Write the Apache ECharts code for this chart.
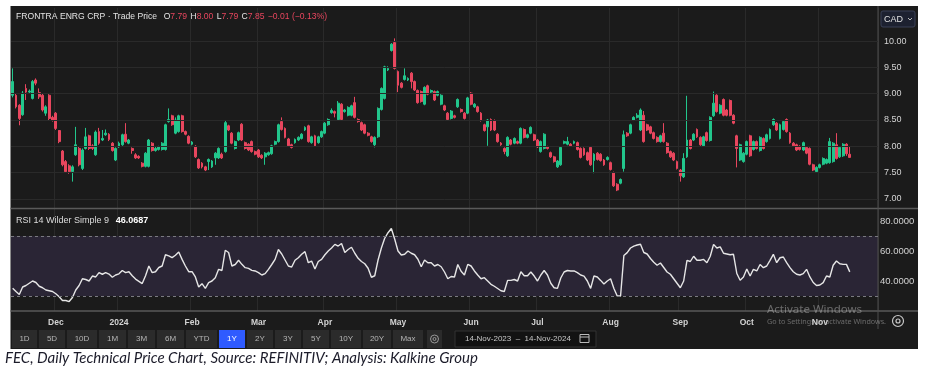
<!DOCTYPE html>
<html>
<head>
<meta charset="utf-8">
<script src="https://cdn.jsdelivr.net/npm/echarts@6/dist/echarts.min.js"></script>
<style>
  html, body { margin: 0; padding: 0; background: #fff; }
  #chart { width: 931px; height: 376px; }
</style>
</head>
<body>
<div id="chart"></div>
<script>
// ---- data ----
const startDate = '2023-11-14';
const endDate = '2024-11-14';
const rangeText = '14-Nov-2023  \u2013  14-Nov-2024';
const holidays = ['2023-12-25', '2023-12-26', '2024-01-01', '2024-02-19', '2024-03-29',
  '2024-05-20', '2024-07-01', '2024-08-05', '2024-09-02', '2024-10-14']; // TSX closed
const padSlots = 8; // empty space right of last candle

const openPx = [8.97,8.97,8.78,8.60,9.10,9.03,8.91,9.26,9.02,8.97,
  8.63,8.97,8.55,8.63,8.30,7.91,7.71,7.63,7.52,7.84,
  7.96,7.58,7.96,8.20,8.01,7.84,8.28,8.12,8.22,8.23,
  8.06,7.74,7.99,8.03,8.23,8.06,7.96,7.84,7.81,7.68,
  7.62,7.62,8.06,7.92,7.94,7.94,7.94,8.47,8.58,8.25,
  8.28,8.58,8.28,8.19,8.04,8.00,7.75,7.68,7.61,7.71,
  7.61,7.78,7.78,7.85,7.90,8.39,8.25,7.96,8.12,8.42,
  8.07,8.04,8.09,7.90,7.93,7.83,7.80,7.84,7.86,8.04,
  8.09,8.47,8.34,8.14,8.03,8.07,8.12,8.15,8.31,8.39,
  8.07,8.20,8.07,8.18,8.25,8.41,8.64,8.66,8.51,8.80,
  8.66,8.59,8.59,8.83,8.51,8.45,8.41,8.25,8.18,8.03,
  8.18,8.70,8.91,9.45,9.82,9.97,9.42,9.20,9.27,9.26,
  9.39,9.23,9.06,9.04,8.80,9.15,9.03,9.04,8.97,8.80,
  8.77,8.63,8.53,8.58,8.75,8.70,8.63,8.63,9.01,8.75,
  8.75,8.63,8.41,8.37,8.51,8.49,8.23,8.06,7.96,7.82,
  8.12,8.06,8.09,8.06,8.32,8.17,8.25,8.22,8.12,7.90,
  7.96,7.99,7.88,7.80,7.61,7.65,8.06,8.04,8.04,8.06,
  8.07,7.96,7.96,7.88,7.98,7.73,7.87,7.85,7.74,7.75,
  7.69,7.50,7.28,7.30,7.58,8.25,8.25,8.50,8.55,8.31,
  8.59,8.41,8.37,8.26,8.17,8.09,8.25,8.06,7.90,7.87,
  7.71,7.55,7.42,7.80,8.12,8.12,8.32,8.17,8.01,8.26,
  8.11,8.58,8.97,8.63,8.89,8.69,8.87,8.59,8.20,7.74,
  7.71,7.85,8.20,7.94,8.09,7.92,8.15,8.09,8.15,8.41,
  8.44,8.15,8.32,8.51,8.25,8.06,8.03,8.00,7.93,7.98,
  7.96,7.65,7.52,7.60,7.66,7.68,7.69,7.71,8.03,7.80,
  7.82,8.04,7.79];
const closePx = [9.23,8.75,8.53,9.01,9.03,9.05,9.23,9.20,8.94,8.69,
  8.75,8.53,8.50,8.34,8.09,7.65,7.52,7.52,7.61,8.03,
  7.65,7.93,8.18,7.96,7.96,8.27,8.06,8.15,8.25,8.13,
  7.92,7.96,8.06,8.22,8.09,8.12,7.92,7.78,7.78,7.62,
  7.87,8.12,7.92,7.96,7.99,8.06,8.41,8.51,8.41,8.50,
  8.58,8.28,8.23,8.06,8.08,7.80,7.59,7.61,7.55,7.75,
  7.72,7.87,7.96,7.78,8.45,8.31,8.06,8.09,8.26,8.12,
  7.96,7.93,7.90,7.85,7.80,7.78,7.87,7.88,8.01,8.09,
  8.41,8.32,8.17,8.01,7.98,8.13,8.17,8.23,8.36,8.09,
  8.18,8.01,8.18,8.28,8.44,8.51,8.68,8.63,8.82,8.51,
  8.69,8.74,8.77,8.55,8.47,8.31,8.25,8.21,8.09,8.17,
  8.72,9.10,9.51,9.48,9.94,9.48,9.16,9.12,9.34,9.29,
  9.23,9.07,8.83,8.85,9.12,8.99,9.06,8.88,9.04,8.97,
  8.69,8.51,8.67,8.55,8.89,8.66,8.53,8.92,8.80,8.80,
  8.66,8.49,8.30,8.50,8.31,8.31,8.09,8.03,7.90,8.17,
  8.04,8.15,8.06,8.34,8.17,8.22,8.36,8.12,7.99,8.09,
  8.23,7.96,7.80,7.71,7.72,7.98,8.09,8.09,8.01,8.09,
  7.94,7.79,7.84,7.74,7.65,7.85,7.75,7.73,7.65,7.79,
  7.56,7.25,7.17,7.37,8.22,8.20,8.41,8.55,8.59,8.69,
  8.09,8.31,8.25,8.15,8.09,8.20,8.09,7.88,7.80,7.74,
  7.58,7.44,7.77,8.12,7.96,8.23,8.18,8.03,8.18,8.11,
  8.55,8.82,8.66,8.78,8.59,8.59,8.59,8.44,7.96,8.03,
  7.87,8.09,7.82,8.09,7.96,8.17,7.96,8.22,8.32,8.51,
  8.31,8.41,8.47,8.28,8.07,8.01,7.93,7.94,8.07,7.87,
  7.66,7.55,7.60,7.65,7.77,7.75,8.09,8.06,7.77,7.98,
  8.04,7.86,7.85];
const lowPx = [8.93,8.72,8.40,8.58,8.88,9.00,8.89,9.16,8.90,8.66,
  8.58,8.50,8.47,8.31,8.06,7.62,7.50,7.48,7.33,7.82,
  7.62,7.55,7.94,7.93,7.93,7.82,8.03,8.10,8.20,8.10,
  7.90,7.72,7.97,8.01,8.07,8.04,7.86,7.76,7.76,7.60,
  7.60,7.60,7.90,7.90,7.92,7.92,7.92,8.45,8.39,8.23,
  8.26,8.26,8.21,8.04,8.02,7.78,7.57,7.58,7.53,7.55,
  7.59,7.65,7.76,7.76,7.88,8.29,8.04,7.94,8.10,8.10,
  7.94,7.91,7.88,7.83,7.78,7.76,7.65,7.82,7.84,8.02,
  8.07,8.30,8.15,7.99,7.96,8.05,8.10,8.13,8.29,8.07,
  8.05,7.99,8.05,8.16,8.23,8.39,8.62,8.55,8.49,8.49,
  8.64,8.57,8.57,8.53,8.45,8.29,8.23,8.19,8.07,7.98,
  8.16,8.68,8.89,9.43,9.80,9.46,9.03,9.10,9.25,9.24,
  9.10,9.05,8.81,8.83,8.78,8.97,9.01,8.86,8.95,8.78,
  8.67,8.49,8.51,8.53,8.73,8.64,8.51,8.61,8.78,8.73,
  8.64,8.47,8.28,8.01,8.29,8.29,8.07,8.01,7.85,7.80,
  8.02,8.04,8.04,8.04,8.15,8.15,8.23,8.10,7.97,7.88,
  7.94,7.94,7.78,7.69,7.59,7.63,8.04,8.02,7.99,8.04,
  7.92,7.77,7.82,7.72,7.63,7.49,7.73,7.71,7.63,7.73,
  7.54,7.23,7.15,7.28,7.52,8.18,8.23,8.48,8.53,8.29,
  8.07,8.29,8.23,8.13,8.07,8.07,8.07,7.86,7.78,7.72,
  7.56,7.33,7.40,7.78,7.94,8.10,8.16,8.01,7.99,8.09,
  8.09,8.56,8.64,8.61,8.57,8.57,8.57,8.42,7.60,7.72,
  7.69,7.83,7.80,7.92,7.94,7.90,7.94,8.07,8.13,8.39,
  8.29,8.13,8.30,8.26,8.05,7.99,7.91,7.92,7.91,7.85,
  7.64,7.53,7.50,7.58,7.64,7.66,7.67,7.69,7.75,7.78,
  7.80,7.82,7.79];
const highPx = [9.48,9.00,8.80,9.05,9.18,9.08,9.26,9.29,9.10,9.00,
  8.78,8.99,8.58,8.65,8.31,7.93,7.74,7.66,7.64,8.37,
  8.00,7.96,8.35,8.22,8.04,8.30,8.35,8.31,8.32,8.25,
  8.08,7.98,8.09,8.24,8.44,8.14,7.98,7.87,7.83,7.70,
  7.89,8.14,8.08,8.00,8.01,8.08,8.43,8.72,8.60,8.55,
  8.60,8.60,8.30,8.21,8.10,8.02,7.77,7.70,7.63,7.77,
  7.74,7.89,7.98,7.88,8.50,8.41,8.27,8.11,8.28,8.44,
  8.09,8.06,8.11,7.92,7.95,7.85,7.89,7.90,8.03,8.11,
  8.43,8.55,8.36,8.16,8.05,8.15,8.19,8.25,8.38,8.41,
  8.20,8.22,8.20,8.30,8.46,8.53,8.72,8.68,8.86,8.82,
  8.71,8.76,8.79,8.94,8.53,8.47,8.43,8.27,8.20,8.19,
  8.74,9.12,9.53,9.52,9.96,10.05,9.44,9.22,9.48,9.31,
  9.41,9.25,9.08,9.06,9.14,9.17,9.08,9.06,9.06,8.99,
  8.79,8.65,8.69,8.60,8.91,8.72,8.65,8.94,9.03,8.82,
  8.77,8.65,8.43,8.52,8.53,8.51,8.25,8.08,7.98,8.19,
  8.14,8.17,8.11,8.36,8.34,8.24,8.38,8.24,8.14,8.11,
  8.25,8.01,7.90,7.82,7.74,8.00,8.11,8.18,8.06,8.11,
  8.09,7.98,7.98,7.90,8.00,7.87,7.89,7.87,7.76,7.81,
  7.71,7.52,7.30,7.39,8.30,8.27,8.43,8.57,8.63,8.72,
  8.67,8.43,8.39,8.28,8.19,8.22,8.44,8.08,7.92,7.89,
  7.73,7.57,7.87,8.96,8.14,8.25,8.34,8.19,8.20,8.28,
  8.57,9.04,8.99,8.80,8.91,8.71,8.89,8.61,8.22,8.05,
  7.89,8.11,8.22,8.11,8.11,8.19,8.17,8.24,8.34,8.53,
  8.46,8.43,8.49,8.53,8.27,8.08,8.05,8.02,8.09,8.00,
  7.98,7.67,7.62,7.67,7.79,7.77,8.16,8.08,8.25,8.00,
  8.06,8.06,8.00];
const rsiVals = [35.1,33,31,36,37,38.5,40,39,36.5,35.5,
  34,33.5,33,31.5,29.5,27,27,26.3,29,34,
  37,41.5,41,40,43.3,42.7,45.6,44.5,45.6,44.6,
  42.5,44,44.8,47,45.6,46.2,43.5,41.3,39.8,38.3,
  43.5,50,45.6,46.2,49,50,57.5,56.8,55.6,57.2,
  59.3,54.4,50,46.2,46.2,42.7,36,38.2,35.1,38.9,
  40,42.2,47.8,47,60.5,59,50,51,53.8,51.1,
  48.9,48.4,47.1,46.7,45.6,44,44.9,47.8,51,54.4,
  61,58,54,50,49.3,53.8,55.5,57.8,59.6,52.2,
  53.3,48,53,54.4,57.5,60,62,64.4,63.3,65,
  59,61,62.5,58.5,55.1,53,51.5,48.5,42.5,43.5,
  54,62,68.5,72.2,75,68,60,57.3,57.8,60,
  58.5,57.5,54.5,49.5,54,52.2,52.2,50,51,49.5,
  46,41.5,43,42.7,51,46.5,44,51.1,50,46.7,
  44,41.5,42.2,40,37.8,36.5,35,33.5,33,40.4,
  40.4,41,40,46.2,43.5,43.5,46,43.3,40,44,
  47,44,38.5,35.5,35.1,42,46,47,46.7,46.7,
  45.6,44,43.3,40,35.1,43.3,42.7,40.4,38,40,
  41.5,35,30,30,57,58.9,62,63.3,64,64.5,
  59,58,55,52.5,50.5,52,49,46,44.5,41.5,
  38.5,35.5,40,53.8,53,56.5,53.8,53.8,54.4,52.2,
  56.5,64.4,62,62.7,58.5,58,57.5,57.8,45,40.5,
  42.7,48,43.3,47.8,46.7,51,48.9,50,53.8,57.8,
  52.2,55.5,56,52.2,48.9,46.2,44.5,44,44.9,47.8,
  42.7,39,37,37.3,38.9,43.3,42.7,50.5,53.3,51.5,
  51.1,51.1,46.0687];

const priceTicks = [7, 7.5, 8, 8.5, 9, 9.5, 10];
const rsiTicks = [40, 60, 80];
const rsiBand = [30, 70];
const lastPrice = 7.85;
const lastRsi = 46.0687;
const quote = { o: '7.79', h: '8.00', l: '7.79', c: '7.85', chg: '\u22120.01 (\u22120.13%)' };
const rangeButtons = ['1D', '5D', '10D', '1M', '3M', '6M', 'YTD', '1Y', '2Y', '3Y', '5Y', '10Y', '20Y', 'Max'];
const rangeEdges = [12, 39, 67, 99, 128, 157, 186, 219, 247, 275, 303, 331, 363, 393, 425];
const activeRange = '1Y';
const monthNames = ['Jan', 'Feb', 'Mar', 'Apr', 'May', 'Jun', 'Jul', 'Aug', 'Sep', 'Oct', 'Nov', 'Dec'];

// ---- helpers ----
function tradingDays(from, to, skip) {
  const out = [];
  const d = new Date(from + 'T00:00:00Z');
  const end = new Date(to + 'T00:00:00Z');
  while (d <= end) {
    const wd = d.getUTCDay();
    const s = d.toISOString().slice(0, 10);
    if (wd !== 0 && wd !== 6 && skip.indexOf(s) < 0) out.push(s);
    d.setUTCDate(d.getUTCDate() + 1);
  }
  return out;
}
const days = tradingDays(startDate, endDate, holidays);
const cats = days.concat(Array.from({ length: padSlots }, (_, i) => 'pad' + i));
function isMonthStart(i) {
  if (i <= 0 || i >= days.length) return false;
  return days[i].slice(5, 7) !== days[i - 1].slice(5, 7);
}
function monthLabel(v) {
  const m = +v.slice(5, 7);
  return m === 1 ? v.slice(0, 4) : monthNames[m - 1];
}

const GREEN = '#22c68c';
const RED = '#e8465e';
const BG = '#1b1b1b';
const GRID = '#2a2a2a';
const UI = 'Liberation Sans, Arial, sans-serif';

const candles = days.map((d, i) => {
  const v = [openPx[i], closePx[i], lowPx[i], highPx[i]];
  if (i === days.length - 1) {
    // refinitiv colours by change vs previous close
    return { value: v, itemStyle: { color: RED, borderColor: RED } };
  }
  return v;
});
const blanks = days.map(() => null);

const myEcharts = echarts.init(document.getElementById('chart'));

// toolbar graphics
const toolbar = [];
rangeButtons.forEach((b, i) => {
  const x0 = rangeEdges[i], x1 = rangeEdges[i + 1] - 2;
  toolbar.push({
    type: 'rect', shape: { x: x0, y: 330, width: x1 - x0, height: 18 },
    style: { fill: b === activeRange ? '#2f5bff' : '#2b2b2b' }, z: 10
  });
  toolbar.push({
    type: 'text', x: (x0 + x1) / 2, y: 339,
    style: { text: b, fill: b === activeRange ? '#fff' : '#b5b5b5', font: '8px ' + UI, align: 'center', verticalAlign: 'middle' }, z: 11
  });
});

const option = {
  backgroundColor: '#ffffff',
  animation: false,
  grid: [
    { left: 11, right: 53, top: 8, height: 200 },
    { left: 11, right: 53, top: 209, height: 102 }
  ],
  xAxis: [
    {
      type: 'category', gridIndex: 0, data: cats, boundaryGap: true,
      axisLine: { show: false }, axisTick: { show: false }, axisLabel: { show: false },
      splitLine: { show: true, interval: (i) => isMonthStart(i), lineStyle: { color: GRID, width: 1 } }
    },
    {
      type: 'category', gridIndex: 1, data: cats, boundaryGap: true,
      axisLine: { show: false }, axisTick: { show: false },
      axisLabel: {
        interval: (i) => isMonthStart(i),
        formatter: (v) => monthLabel(v),
        color: '#d2d2d2', fontSize: 8.5, fontWeight: 'bold', fontFamily: UI, margin: 7
      },
      splitLine: { show: true, interval: (i) => isMonthStart(i), lineStyle: { color: GRID, width: 1 } }
    }
  ],
  yAxis: [
    {
      type: 'value', gridIndex: 0, position: 'right', min: 6.829, max: 10.627, scale: true,
      splitLine: { show: false }, axisLine: { show: false }, axisTick: { show: false },
      axisLabel: {
        customValues: priceTicks,
        formatter: (v) => (v > 6.99 && v < 10.01 && Math.abs(v * 2 - Math.round(v * 2)) < 1e-6) ? v.toFixed(2) : '',
        color: '#d4d4d4', fontSize: 9, fontFamily: UI, margin: 6
      }
    },
    {
      type: 'value', gridIndex: 1, position: 'right', min: 20, max: 88, interval: 20,
      splitLine: { show: false }, axisLine: { show: false }, axisTick: { show: false },
      axisLabel: {
        customValues: rsiTicks,
        formatter: (v) => (rsiTicks.indexOf(Math.round(v)) >= 0 && Math.abs(v - Math.round(v)) < 1e-6) ? v.toFixed(4) : '',
        color: '#d4d4d4', fontSize: 9.5, fontFamily: UI, margin: 2
      }
    }
  ],
  series: [
    {
      // price gridlines
      type: 'line', xAxisIndex: 0, yAxisIndex: 0, data: blanks, z: 1, silent: true,
      markLine: {
        silent: true, symbol: 'none', animation: false, label: { show: false },
        lineStyle: { color: GRID, type: 'solid', width: 1 },
        data: priceTicks.map((v) => ({ yAxis: v }))
      }
    },
    {
      type: 'candlestick', name: 'FEC', xAxisIndex: 0, yAxisIndex: 0, data: candles, z: 3,
      barWidth: '72%',
      itemStyle: { color: GREEN, color0: RED, borderColor: GREEN, borderColor0: RED, borderWidth: 1 },
      markLine: {
        silent: true, symbol: 'none', animation: false,
        data: [{
          yAxis: lastPrice, lineStyle: { opacity: 0 },
          label: {
            show: true, position: 'end', distance: 1, formatter: lastPrice.toFixed(2),
            backgroundColor: RED, color: '#fff', fontWeight: 'bold', fontSize: 9.5, fontFamily: UI,
            padding: [2, 4, 1, 4], borderRadius: 1
          }
        }]
      }
    },
    {
      // RSI 30/70 band
      type: 'line', xAxisIndex: 1, yAxisIndex: 1, data: blanks, z: 1, silent: true,
      markArea: {
        silent: true, itemStyle: { color: '#2a2535' },
        data: [[{ yAxis: rsiBand[0] }, { yAxis: rsiBand[1] }]]
      },
      markLine: {
        silent: true, symbol: 'none', animation: false, label: { show: false },
        lineStyle: { color: '#7a7a80', type: [3, 3], width: 1 },
        data: rsiBand.map((v) => ({ yAxis: v }))
      }
    },
    {
      type: 'line', name: 'RSI', xAxisIndex: 1, yAxisIndex: 1, data: rsiVals, z: 3,
      showSymbol: false, symbol: 'none',
      lineStyle: { color: '#e6e6e6', width: 1.4 },
      markLine: {
        silent: true, symbol: 'none', animation: false,
        data: [{
          yAxis: lastRsi, lineStyle: { opacity: 0 },
          label: {
            show: true, position: 'end', distance: 1, formatter: lastRsi.toFixed(4),
            backgroundColor: '#ffffff', color: '#222', fontSize: 9.5, fontFamily: UI,
            padding: [2, 3, 1, 3], borderColor: '#888', borderWidth: 0.5
          }
        }]
      }
    }
  ],
  graphic: [
    { type: 'rect', shape: { x: 10.5, y: 6, width: 907.5, height: 343 }, style: { fill: BG }, z: -10 },
    // panel separators and right axis rule
    { type: 'line', shape: { x1: 10.5, y1: 208.5, x2: 918, y2: 208.5 }, style: { stroke: '#5a5a5a', lineWidth: 1.5 }, z: 5 },
    { type: 'line', shape: { x1: 10.5, y1: 311, x2: 918, y2: 311 }, style: { stroke: '#5a5a5a', lineWidth: 1.5 }, z: 5 },
    { type: 'line', shape: { x1: 878, y1: 6, x2: 878, y2: 329 }, style: { stroke: '#4e4e4e', lineWidth: 1 }, z: 5 },
    // header
    {
      type: 'text', x: 16, y: 17, z: 10,
      style: {
        text: '{w|FRONTRA ENRG CRP \u00b7 Trade Price}  {w|O}{r|' + quote.o + '} {w|H}{r|' + quote.h + '} {w|L}{r|' + quote.l +
          '} {w|C}{r|' + quote.c + '} {r|' + quote.chg + '}',
        verticalAlign: 'middle',
        rich: {
          w: { fill: '#e4e4e4', font: '8.6px ' + UI },
          r: { fill: RED, font: '8.6px ' + UI }
        }
      }
    },
    {
      type: 'text', x: 16, y: 221, z: 10,
      style: {
        text: '{w|RSI 14 Wilder Simple 9}  {b|' + lastRsi.toFixed(4) + '}',
        verticalAlign: 'middle',
        rich: {
          w: { fill: '#dcdcdc', font: '9px ' + UI },
          b: { fill: '#ffffff', font: 'bold 9px ' + UI }
        }
      }
    },
    // currency box
    { type: 'rect', shape: { x: 881, y: 11, width: 34, height: 16, r: 2 }, style: { fill: '#1d2130', stroke: '#3b4157', lineWidth: 1 }, z: 10 },
    { type: 'text', x: 884, y: 19.5, style: { text: 'CAD', fill: '#e0e0e0', font: '9px ' + UI, verticalAlign: 'middle' }, z: 11 },
    { type: 'polyline', shape: { points: [[908, 18], [910, 20], [912, 18]] }, style: { stroke: '#bbb', lineWidth: 1, fill: null }, z: 11 },
    // settings icon, right
    { type: 'circle', shape: { cx: 898, cy: 321, r: 5.5 }, style: { fill: null, stroke: '#c8c8c8', lineWidth: 1.2 }, z: 10 },
    { type: 'circle', shape: { cx: 898, cy: 321, r: 2 }, style: { fill: null, stroke: '#c8c8c8', lineWidth: 1.2 }, z: 10 },
    ...toolbar,
    // settings icon in toolbar
    { type: 'rect', shape: { x: 427, y: 330, width: 15, height: 18 }, style: { fill: '#2b2b2b' }, z: 10 },
    { type: 'circle', shape: { cx: 434.5, cy: 339, r: 4 }, style: { fill: null, stroke: '#9a9a9a', lineWidth: 1 }, z: 11 },
    { type: 'circle', shape: { cx: 434.5, cy: 339, r: 1.5 }, style: { fill: null, stroke: '#9a9a9a', lineWidth: 1 }, z: 11 },
    // date range box
    { type: 'rect', shape: { x: 455, y: 331, width: 141, height: 16 }, style: { fill: '#121212', stroke: '#333', lineWidth: 1 }, z: 10 },
    { type: 'text', x: 465, y: 339, style: { text: rangeText, fill: '#c8c8c8', font: '8px ' + UI, verticalAlign: 'middle' }, z: 11 },
    { type: 'rect', shape: { x: 580, y: 334.5, width: 9, height: 8 }, style: { fill: null, stroke: '#bbb', lineWidth: 1 }, z: 11 },
    { type: 'line', shape: { x1: 580, y1: 337, x2: 589, y2: 337 }, style: { stroke: '#bbb', lineWidth: 1 }, z: 11 },
    // OS watermark captured in the screenshot
    { type: 'text', x: 767, y: 310, style: { text: 'Activate Windows', fill: 'rgba(200,200,200,0.45)', font: '11.5px Noto Sans, sans-serif', verticalAlign: 'middle' }, z: 20 },
    { type: 'text', x: 767, y: 322, style: { text: 'Go to Settings to activate Windows.', fill: 'rgba(200,200,200,0.45)', font: '7.2px Noto Sans, sans-serif', verticalAlign: 'middle' }, z: 20 },
    // caption
    { type: 'text', x: 5, y: 358, style: { text: 'FEC, Daily Technical Price Chart, Source: REFINITIV; Analysis: Kalkine Group', fill: '#1c1c2a', font: 'italic 15px Lato, sans-serif', verticalAlign: 'middle' }, z: 10 }
  ]
};
myEcharts.setOption(option);
</script>
</body>
</html>
